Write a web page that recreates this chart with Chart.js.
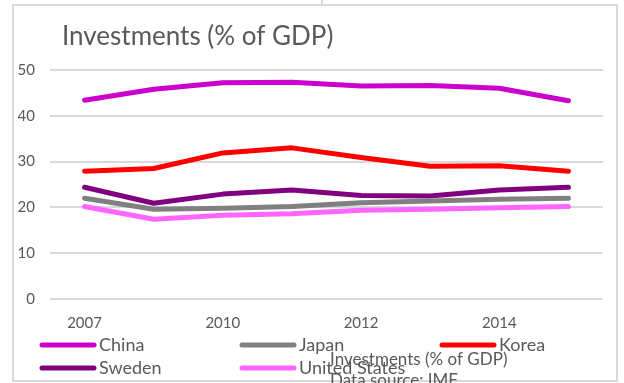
<!DOCTYPE html>
<html>
<head>
<meta charset="utf-8">
<script src="https://cdn.jsdelivr.net/npm/chart.js@4/dist/chart.umd.min.js"></script>
<style>
    html, body { margin: 0; padding: 0; background: #ffffff; }
    #investChart { display: block; }
</style>
</head>
<body>
<canvas id="investChart" width="624" height="383"></canvas>
<script>
const years = ['2007', '2009', '2010', '2011', '2012', '2013', '2014', '2015'];
const yTicks = [0, 10, 20, 30, 40, 50];

const china = [43.4, 45.8, 47.2, 47.3, 46.5, 46.6, 46.0, 43.3];
const japan = [22.0, 19.6, 19.8, 20.2, 21.0, 21.4, 21.8, 22.0];
const korea = [27.9, 28.5, 31.9, 33.0, 30.9, 29.0, 29.1, 27.9];
const sweden = [24.4, 20.9, 22.9, 23.8, 22.6, 22.5, 23.8, 24.4];
const unitedStates = [20.2, 17.4, 18.3, 18.6, 19.4, 19.6, 19.9, 20.2];

const titleText = 'Investments (% of GDP)';
const footnoteLines = ['Investments (% of GDP)', 'Data source: IMF'];

const fontFamily = "Lato, 'Liberation Sans', sans-serif";
const textColor = '#595959';

function series(label, data, color) {
    return {
        label: label,
        data: data,
        borderColor: color,
        backgroundColor: color,
        borderWidth: 5,
        borderCapStyle: 'round',
        borderJoinStyle: 'round',
        pointRadius: 0,
        pointHoverRadius: 0,
        tension: 0,
        fill: false
    };
}

// frame, title, two-row legend and the overlapping footnote
const decorations = {
    id: 'decorations',
    beforeDraw: function (chart) {
        const ctx = chart.ctx;
        ctx.save();
        ctx.strokeStyle = '#d9d9d9';
        ctx.lineWidth = 2;
        ctx.strokeRect(13, 5, 604, 376);
        ctx.beginPath();
        ctx.moveTo(322, 0);
        ctx.lineTo(322, 5);
        ctx.stroke();
        ctx.restore();
    },
    afterDraw: function (chart) {
        const ctx = chart.ctx;
        ctx.save();
        ctx.fillStyle = textColor;
        ctx.textBaseline = 'middle';
        ctx.textAlign = 'left';
        ctx.font = '26px ' + fontFamily;
        ctx.fillText(titleText, 62, 37);

        // legend: three columns, two rows
        ctx.font = '18px ' + fontFamily;
        chart.data.datasets.forEach(function (ds, i) {
            const col = i % 3;
            const row = Math.floor(i / 3);
            const x = 42 + col * 200;
            const y = 345 + row * 23;
            ctx.strokeStyle = ds.borderColor;
            ctx.lineWidth = 5;
            ctx.lineCap = 'round';
            ctx.beginPath();
            ctx.moveTo(x, y);
            ctx.lineTo(x + 52, y);
            ctx.stroke();
            ctx.fillText(ds.label, x + 57, y);
        });

        ctx.font = '17px ' + fontFamily;
        footnoteLines.forEach(function (line, i) {
            ctx.fillText(line, 330, 360 + i * 21);
        });
        ctx.restore();
    }
};

new Chart(document.getElementById('investChart'), {
    type: 'line',
    data: {
        labels: years,
        datasets: [
            series('China', china, '#cc00cc'),
            series('Japan', japan, '#808080'),
            series('Korea', korea, '#ff0000'),
            series('Sweden', sweden, '#800080'),
            series('United States', unitedStates, '#ff66ff')
        ]
    },
    options: {
        responsive: false,
        animation: false,
        layout: {
            padding: { left: 0, top: 70, right: 21, bottom: 0 }
        },
        plugins: {
            legend: { display: false },
            title: { display: false },
            tooltip: { enabled: false }
        },
        scales: {
            x: {
                offset: true,
                grid: { display: false },
                border: { display: false },
                afterFit: function (scale) { scale.height = 84; },
                ticks: {
                    autoSkip: false,
                    maxRotation: 0,
                    padding: 7,
                    color: textColor,
                    font: { family: fontFamily, size: 15 },
                    callback: function (value, index) {
                        return index % 2 === 0 ? this.getLabelForValue(value) : '';
                    }
                }
            },
            y: {
                min: 0,
                max: 50,
                afterFit: function (scale) { scale.width = 50; },
                afterBuildTicks: function (scale) {
                    scale.ticks = yTicks.map(function (v) { return { value: v }; });
                },
                grid: { color: '#d9d9d9', lineWidth: 2, drawTicks: false },
                border: { display: false },
                ticks: {
                    padding: 15,
                    color: textColor,
                    font: { family: fontFamily, size: 15 }
                }
            }
        }
    },
    plugins: [decorations]
});
</script>
</body>
</html>
